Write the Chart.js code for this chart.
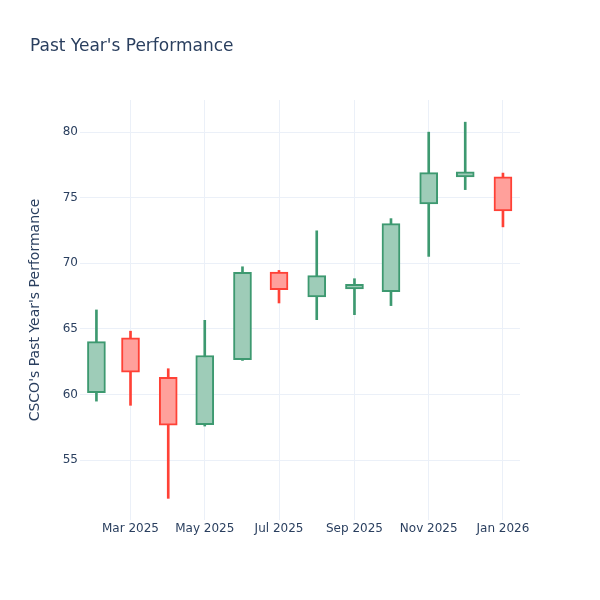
<!DOCTYPE html>
<html>
<head>
<meta charset="utf-8">
<script src="https://cdn.jsdelivr.net/npm/chart.js@4.4.1/dist/chart.umd.min.js"></script>
<style>
  html, body { margin: 0; padding: 0; background: #fff; }
  #wrap { width: 600px; height: 600px; }
</style>
</head>
<body>
<div id="wrap"><canvas id="chart" width="600" height="600"></canvas></div>
<script>
// Monthly OHLC values
const months = ['2025-02-01', '2025-03-01', '2025-04-01', '2025-05-01', '2025-06-01', '2025-07-01',
                '2025-08-01', '2025-09-01', '2025-10-01', '2025-11-01', '2025-12-01', '2026-01-01'];
const openVals  = [60.14, 64.32, 61.31, 57.71, 62.65, 69.34, 67.44, 68.05, 67.84, 74.53, 76.58, 76.60];
const highVals  = [66.45, 64.83, 61.97, 65.66, 69.74, 69.46, 72.48, 68.83, 73.41, 80.00, 80.76, 76.88];
const lowVals   = [59.50, 59.18, 52.09, 57.60, 62.60, 66.98, 65.71, 66.09, 66.78, 70.53, 75.62, 72.78];
const closeVals = [64.04, 61.71, 57.66, 62.98, 69.31, 67.99, 69.06, 68.40, 73.03, 76.91, 76.98, 74.00];

const xTickDates = ['2025-03-01', '2025-05-01', '2025-07-01', '2025-09-01', '2025-11-01', '2026-01-01'];
const yTicks = [55, 60, 65, 70, 75, 80];
const monthNames = ['Jan','Feb','Mar','Apr','May','Jun','Jul','Aug','Sep','Oct','Nov','Dec'];

const titleText = "Past Year's Performance";
const yTitle = "CSCO's Past Year's Performance";

const FONT = '"DejaVu Sans", Verdana, sans-serif';
const TEXT = '#2a3f5f';
const GRID = '#EBF0F8';
const UP = '#3D9970', UP_FILL = 'rgb(158,204,184)';
const DOWN = '#FF4136', DOWN_FILL = 'rgb(255,160,155)';

const toTime = s => Date.parse(s + 'T00:00:00Z');
const isUp = i => closeVals[i] >= openVals[i];
const fmtMonth = v => {
  const d = new Date(v);
  return monthNames[d.getUTCMonth()] + ' ' + d.getUTCFullYear();
};

const wicks = months.map((m, i) => ({ x: toTime(m), y: [lowVals[i], highVals[i]] }));
const bodies = months.map((m, i) => ({ x: toTime(m), y: [openVals[i], closeVals[i]] }));

const titlePlugin = {
  id: 'plotTitle',
  afterDraw(chart) {
    const ctx = chart.ctx;
    ctx.save();
    ctx.font = '17px ' + FONT;
    ctx.fillStyle = TEXT;
    ctx.textBaseline = 'alphabetic';
    ctx.fillText(titleText, 30, 50.5);
    ctx.restore();
  }
};

new Chart(document.getElementById('chart'), {
  type: 'bar',
  data: {
    datasets: [
      {
        label: 'body',
        data: bodies,
        order: 0,
        grouped: false,
        barThickness: 18,
        borderWidth: 2,
        borderSkipped: false,
        backgroundColor: c => isUp(c.dataIndex) ? UP_FILL : DOWN_FILL,
        borderColor: c => isUp(c.dataIndex) ? UP : DOWN
      },
      {
        label: 'wick',
        data: wicks,
        order: 1,
        grouped: false,
        barThickness: 2,
        borderWidth: 0,
        backgroundColor: c => isUp(c.dataIndex) ? UP : DOWN
      }
    ]
  },
  options: {
    responsive: false,
    animation: false,
    layout: { padding: { top: 100, right: 80, bottom: 40, left: 0 } },
    plugins: {
      legend: { display: false },
      tooltip: { enabled: false }
    },
    scales: {
      x: {
        type: 'linear',
        min: Date.UTC(2025, 0, 18, 12),
        max: Date.UTC(2026, 0, 15),
        offset: false,
        afterBuildTicks: s => { s.ticks = xTickDates.map(d => ({ value: toTime(d) })); },
        afterFit: s => { s.height = 40; },
        grid: { color: GRID, lineWidth: 1, drawTicks: false, offset: false },
        border: { display: false },
        ticks: {
          autoSkip: false, maxRotation: 0, padding: 2,
          color: TEXT, font: { family: FONT, size: 12 },
          callback: v => fmtMonth(v)
        }
      },
      y: {
        type: 'linear',
        min: 50.44,
        max: 82.45,
        afterBuildTicks: s => { s.ticks = yTicks.map(v => ({ value: v })); },
        afterFit: s => { s.width = 80; },
        grid: { color: GRID, lineWidth: 1, drawTicks: false },
        border: { display: false },
        ticks: { padding: 2, color: TEXT, font: { family: FONT, size: 12 } },
        title: {
          display: true, text: yTitle, color: TEXT,
          font: { family: FONT, size: 14 },
          padding: { top: 26.6, bottom: 0 }
        }
      }
    }
  },
  plugins: [titlePlugin]
});
</script>
</body>
</html>
